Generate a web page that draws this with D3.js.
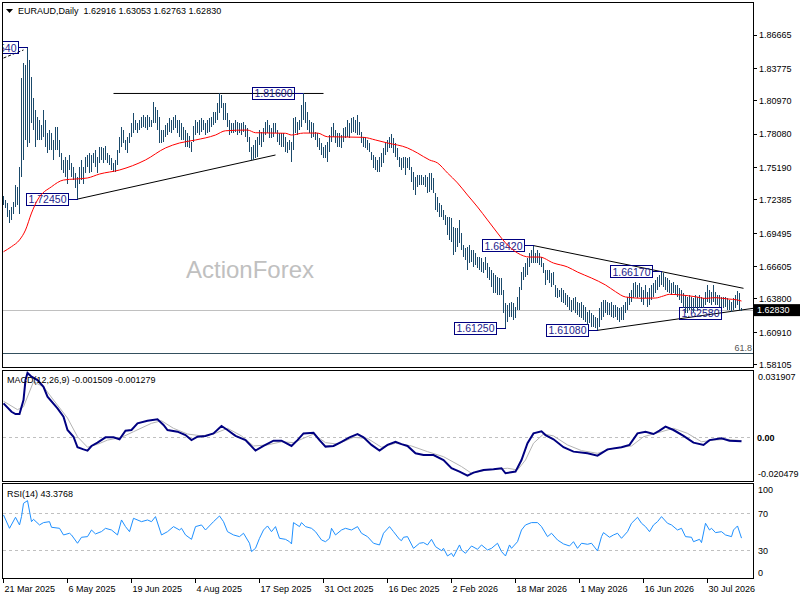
<!DOCTYPE html>
<html>
<head>
<meta charset="utf-8">
<script src="https://cdn.jsdelivr.net/npm/d3@7.9.0/dist/d3.min.js"></script>
<style>
  body { margin: 0; background: #fff; }
  svg { display: block; font-family: "Liberation Sans", Arial, sans-serif; }
</style>
</head>
<body>
<svg id="chart" width="800" height="600"></svg>
<script>
// ---- data ----
const symbol = 'EURAUD,Daily';
const lastOhlc = [1.62916, 1.63053, 1.62763, 1.62830];

const highs = [
  1.7271,1.7236,1.7207,1.7149,1.7178,1.7221,1.7366,1.7351,1.7525,1.8291,
  1.8421,1.8406,1.8554,1.8450,1.8305,1.8117,1.8016,1.7958,1.7929,1.7886,
  1.8016,1.7929,1.7814,1.7843,1.7814,1.7756,1.7872,1.7872,1.7756,1.7640,
  1.7583,1.7611,1.7583,1.7626,1.7554,1.7525,1.7467,1.7438,1.7525,1.7583,
  1.7525,1.7611,1.7626,1.7640,1.7626,1.7640,1.7669,1.7611,1.7698,1.7698,
  1.7684,1.7704,1.7640,1.7626,1.7597,1.7554,1.7583,1.7669,1.7785,1.7872,
  1.7843,1.7756,1.7785,1.7814,1.7900,1.7987,1.7929,1.7900,1.7929,1.7958,
  1.7973,1.7958,1.7973,1.7958,1.7929,1.8088,1.8045,1.8016,1.7958,1.7843,
  1.7843,1.7886,1.7900,1.7944,1.7929,1.7958,1.7973,1.7929,1.7929,1.7900,
  1.7872,1.7843,1.7814,1.7790,1.7742,1.7880,1.7930,1.7916,1.7930,1.7945,
  1.7930,1.7901,1.7930,1.7945,1.7959,1.8002,1.8002,1.8075,1.8160,1.8150,
  1.8075,1.8075,1.7988,1.7930,1.7901,1.7901,1.7930,1.7916,1.7901,1.7901,
  1.7916,1.7887,1.7858,1.7786,1.7699,1.7713,1.7757,1.7786,1.7843,1.7829,
  1.7858,1.7916,1.7930,1.7887,1.7858,1.7901,1.7901,1.7843,1.7815,1.7815,
  1.7815,1.7786,1.7742,1.7757,1.7742,1.7945,1.7959,1.7916,1.7930,1.8060,
  1.8160,1.8089,1.8002,1.7930,1.7916,1.7901,1.7829,1.7815,1.7771,1.7728,
  1.7699,1.7713,1.7742,1.7800,1.7872,1.7901,1.7843,1.7815,1.7815,1.7800,
  1.7858,1.7872,1.7930,1.7901,1.7945,1.7959,1.7930,1.7974,1.7916,1.7829,
  1.7786,1.7786,1.7757,1.7728,1.7656,1.7627,1.7612,1.7584,1.7612,1.7641,
  1.7685,1.7728,1.7757,1.7786,1.7806,1.7771,1.7728,1.7685,1.7612,1.7598,
  1.7612,1.7612,1.7598,1.7612,1.7526,1.7482,1.7439,1.7453,1.7453,1.7453,
  1.7439,1.7453,1.7439,1.7468,1.7468,1.7425,1.7295,1.7266,1.7208,1.7193,
  1.7150,1.7107,1.7092,1.7092,1.7078,1.7006,1.6991,1.6991,1.7063,1.6948,
  1.6847,1.6818,1.6832,1.6847,1.6803,1.6803,1.6774,1.6745,1.6745,1.6731,
  1.6702,1.6745,1.6688,1.6659,1.6630,1.6601,1.6587,1.6572,1.6558,1.6558,
  1.6456,1.6341,1.6326,1.6341,1.6355,1.6341,1.6312,1.6399,1.6485,1.6615,
  1.6659,1.6688,1.6731,1.6774,1.6803,1.6842,1.6774,1.6803,1.6774,1.6745,
  1.6688,1.6630,1.6630,1.6630,1.6601,1.6615,1.6500,1.6471,1.6456,1.6471,
  1.6457,1.6428,1.6413,1.6399,1.6370,1.6385,1.6399,1.6356,1.6341,1.6356,
  1.6327,1.6312,1.6269,1.6283,1.6255,1.6240,1.6226,1.6211,1.6298,1.6356,
  1.6370,1.6370,1.6356,1.6341,1.6356,1.6327,1.6327,1.6312,1.6298,1.6312,
  1.6327,1.6356,1.6399,1.6428,1.6457,1.6515,1.6529,1.6500,1.6515,1.6486,
  1.6457,1.6500,1.6442,1.6471,1.6500,1.6515,1.6544,1.6573,1.6587,1.6617,
  1.6607,1.6573,1.6558,1.6544,1.6515,1.6529,1.6500,1.6500,1.6471,1.6457,
  1.6428,1.6413,1.6399,1.6413,1.6399,1.6385,1.6413,1.6399,1.6413,1.6399,
  1.6385,1.6442,1.6500,1.6457,1.6442,1.6500,1.6442,1.6413,1.6413,1.6399,
  1.6399,1.6399,1.6385,1.6370,1.6356,1.6385,1.6413,1.6448,1.6428,1.6305
];

const lows = [
  1.7192,1.7164,1.7091,1.7039,1.7062,1.7120,1.7178,1.7192,1.7120,1.7438,
  1.7583,1.7756,1.7698,1.7727,1.7900,1.7843,1.7698,1.7756,1.7756,1.7756,
  1.7785,1.7698,1.7640,1.7669,1.7669,1.7583,1.7669,1.7669,1.7612,1.7496,
  1.7467,1.7438,1.7380,1.7496,1.7438,1.7409,1.7337,1.7245,1.7380,1.7409,
  1.7380,1.7467,1.7525,1.7467,1.7481,1.7554,1.7525,1.7467,1.7554,1.7583,
  1.7554,1.7583,1.7554,1.7539,1.7496,1.7481,1.7481,1.7539,1.7640,1.7698,
  1.7727,1.7669,1.7640,1.7727,1.7785,1.7814,1.7843,1.7814,1.7843,1.7857,
  1.7872,1.7857,1.7843,1.7872,1.7872,1.7900,1.7900,1.7843,1.7727,1.7727,
  1.7742,1.7785,1.7799,1.7828,1.7814,1.7843,1.7857,1.7814,1.7785,1.7756,
  1.7756,1.7698,1.7698,1.7690,1.7656,1.7740,1.7800,1.7815,1.7800,1.7829,
  1.7843,1.7800,1.7815,1.7829,1.7872,1.7887,1.7901,1.7930,1.7988,1.8031,
  1.7930,1.7930,1.7872,1.7800,1.7815,1.7815,1.7829,1.7800,1.7815,1.7800,
  1.7829,1.7786,1.7742,1.7656,1.7583,1.7583,1.7598,1.7612,1.7713,1.7699,
  1.7742,1.7800,1.7815,1.7771,1.7771,1.7786,1.7815,1.7742,1.7713,1.7699,
  1.7699,1.7656,1.7641,1.7670,1.7569,1.7670,1.7815,1.7800,1.7843,1.7872,
  1.7930,1.7901,1.7843,1.7815,1.7771,1.7786,1.7757,1.7699,1.7670,1.7627,
  1.7598,1.7598,1.7569,1.7656,1.7742,1.7786,1.7728,1.7699,1.7699,1.7685,
  1.7742,1.7771,1.7786,1.7771,1.7815,1.7829,1.7815,1.7800,1.7800,1.7728,
  1.7699,1.7685,1.7670,1.7656,1.7583,1.7511,1.7497,1.7482,1.7482,1.7526,
  1.7555,1.7627,1.7656,1.7685,1.7685,1.7641,1.7612,1.7584,1.7526,1.7497,
  1.7511,1.7453,1.7511,1.7497,1.7396,1.7323,1.7280,1.7352,1.7367,1.7367,
  1.7367,1.7352,1.7295,1.7309,1.7323,1.7295,1.7150,1.7136,1.7092,1.7092,
  1.7063,1.7020,1.6933,1.6890,1.6875,1.6760,1.6789,1.6832,1.6861,1.6803,
  1.6745,1.6717,1.6630,1.6688,1.6702,1.6659,1.6673,1.6644,1.6630,1.6615,
  1.6601,1.6630,1.6558,1.6543,1.6485,1.6428,1.6428,1.6413,1.6413,1.6413,
  1.6254,1.6125,1.6182,1.6225,1.6225,1.6196,1.6211,1.6283,1.6283,1.6456,
  1.6543,1.6572,1.6587,1.6659,1.6688,1.6688,1.6688,1.6688,1.6673,1.6659,
  1.6601,1.6500,1.6543,1.6514,1.6485,1.6500,1.6399,1.6384,1.6399,1.6356,
  1.6341,1.6327,1.6312,1.6283,1.6269,1.6283,1.6255,1.6240,1.6226,1.6211,
  1.6197,1.6182,1.6153,1.6168,1.6139,1.6139,1.6124,1.6108,1.6139,1.6197,
  1.6226,1.6255,1.6240,1.6240,1.6226,1.6211,1.6226,1.6197,1.6182,1.6197,
  1.6197,1.6255,1.6283,1.6327,1.6356,1.6385,1.6399,1.6385,1.6399,1.6356,
  1.6327,1.6385,1.6312,1.6327,1.6370,1.6399,1.6428,1.6457,1.6486,1.6500,
  1.6486,1.6457,1.6442,1.6428,1.6413,1.6428,1.6413,1.6399,1.6370,1.6341,
  1.6298,1.6262,1.6258,1.6283,1.6283,1.6269,1.6298,1.6283,1.6298,1.6312,
  1.6298,1.6327,1.6356,1.6341,1.6327,1.6356,1.6327,1.6327,1.6312,1.6312,
  1.6298,1.6312,1.6283,1.6283,1.6269,1.6283,1.6298,1.6327,1.6283,1.6276
];

// moving average, [bar, value]
const maPoints = [
  [0,1.6789],[4,1.6833],[8,1.6891],[11,1.6977],[14,1.7124],[17,1.7237],[24,1.7352],[30,1.7410],
  [42,1.7428],[48,1.7462],[58,1.7497],[71,1.7584],[81,1.7688],[88,1.7731],[96,1.7757],
  [106,1.7800],[111,1.7837],[122,1.7843],[126,1.7820],[141,1.7815],[144,1.7800],[150,1.7817],[157,1.7817],
  [162,1.7785],[171,1.7783],[180,1.7780],[186,1.7757],[192,1.7731],[202,1.7688],[207,1.7644],[213,1.7584],
  [217,1.7558],[222,1.7471],[227,1.7385],[232,1.7280],[237,1.7177],[242,1.7064],[247,1.6951],[251,1.6865],
  [257,1.6778],[263,1.6743],[268,1.6743],[275,1.6691],[282,1.6657],[287,1.6613],[294,1.6561],[301,1.6501],
  [306,1.6443],[311,1.6397],[319,1.6386],[326,1.6388],[330,1.6406],[333,1.6420],[339,1.6414],[346,1.6399],
  [351,1.6385],[356,1.6391],[362,1.6380],[367,1.6371],[369,1.6362]
];

const macdPoints = [
  [0,0.0165],[4,0.0125],[6,0.0114],[8,0.0114],[10,0.0181],[11,0.0276],[12,0.0310],[14,0.0292],[17,0.0276],[20,0.0244],
  [22,0.0197],[27,0.0141],[30,0.0101],[32,0.0038],[35,0.0006],[37,-0.0044],[40,-0.0054],[42,-0.0060],[44,-0.0038],[47,-0.0022],
  [51,0.0003],[55,0.0003],[58,-0.0006],[61,0.0035],[64,0.0038],[67,0.0070],[72,0.0082],[77,0.0089],[80,0.0062],[82,0.0038],
  [87,0.0030],[91,0.0014],[94,-0.0010],[97,0.0006],[101,0.0010],[105,0.0022],[109,0.0057],[112,0.0038],[116,0.0010],[121,-0.0010],
  [126,-0.0060],[130,-0.0038],[135,-0.0013],[139,-0.0013],[144,-0.0038],[147,-0.0010],[150,0.0022],[155,0.0025],[158,-0.0010],[161,-0.0041],
  [165,-0.0038],[169,-0.0018],[173,0.0003],[177,0.0019],[180,0.0003],[184,-0.0033],[188,-0.0060],[192,-0.0033],[196,-0.0018],[199,-0.0029],
  [202,-0.0038],[206,-0.0073],[210,-0.0081],[215,-0.0081],[220,-0.0105],[224,-0.0144],[228,-0.0160],[232,-0.0179],[235,-0.0165],[240,-0.0152],
  [245,-0.0149],[249,-0.0144],[251,-0.0168],[256,-0.0160],[259,-0.0105],[262,-0.0025],[265,0.0022],[269,0.0032],[271,0.0014],[275,-0.0006],
  [280,-0.0044],[285,-0.0065],[292,-0.0073],[297,-0.0084],[302,-0.0054],[309,-0.0044],[313,-0.0033],[317,0.0022],[321,0.0030],[325,0.0019],
  [328,0.0035],[331,0.0054],[335,0.0038],[340,0.0010],[345,-0.0022],[350,-0.0033],[353,-0.0010],[359,-0.0001],[363,-0.0013],[369,-0.0015]
];

const signalPoints = [
  [0,0.0175],[7,0.0135],[10,0.0149],[15,0.0268],[20,0.0244],[25,0.0181],[32,0.0095],[37,0.0006],[42,-0.0044],[47,-0.0030],
  [52,-0.0010],[59,0.0003],[65,0.0030],[74,0.0070],[79,0.0082],[85,0.0046],[92,0.0019],[99,0.0010],[105,0.0019],[112,0.0046],
  [119,0.0010],[125,-0.0038],[132,-0.0033],[139,-0.0018],[145,-0.0022],[155,0.0019],[161,-0.0022],[167,-0.0029],[175,0.0003],[182,-0.0002],
  [189,-0.0044],[196,-0.0025],[204,-0.0038],[212,-0.0065],[220,-0.0089],[229,-0.0136],[234,-0.0168],[242,-0.0152],[252,-0.0144],[257,-0.0152],
  [261,-0.0105],[265,-0.0025],[270,0.0019],[275,0.0010],[282,-0.0033],[289,-0.0060],[297,-0.0073],[305,-0.0049],[314,-0.0038],[320,0.0006],
  [329,0.0030],[335,0.0046],[342,0.0022],[349,-0.0018],[355,-0.0010],[362,-0.0006],[369,-0.0013]
];
const macdReadout = [-0.001509, -0.001279];

const rsiPoints = [
  [0,68.2],[3,53.9],[6,65.7],[8,57.5],[9,66.4],[10,80.6],[12,83.5],[14,61.0],[15,63.5],[18,57.5],
  [20,60.0],[23,61.0],[24,55.0],[28,53.9],[30,46.8],[33,48.6],[34,46.8],[37,37.9],[39,44.3],[42,45.0],
  [44,52.1],[46,47.9],[49,50.4],[51,53.9],[54,52.1],[57,46.8],[59,62.8],[61,55.7],[63,50.3],[65,64.6],
  [69,61.0],[72,62.8],[74,61.0],[76,66.4],[79,46.8],[82,50.3],[85,55.7],[88,52.1],[89,53.9],[91,46.8],
  [94,42.1],[96,55.7],[99,57.5],[101,52.1],[105,61.0],[108,67.1],[110,61.0],[112,50.3],[115,46.8],[118,45.0],
  [120,48.6],[123,37.9],[124,29.0],[126,32.5],[128,43.2],[130,52.1],[132,56.4],[134,50.3],[136,55.7],[138,43.2],
  [141,42.1],[143,39.6],[144,37.2],[145,60.0],[148,55.7],[149,60.0],[151,55.7],[154,53.9],[156,50.3],[159,41.4],
  [161,39.6],[163,43.2],[164,53.9],[166,46.8],[169,52.1],[171,53.9],[174,52.1],[177,55.7],[179,48.6],[182,45.0],
  [185,37.9],[188,36.1],[190,48.6],[193,55.7],[195,50.3],[198,42.1],[199,40.7],[200,44.3],[202,45.0],[205,32.5],
  [208,37.9],[210,38.6],[212,36.1],[214,42.1],[216,34.3],[219,30.0],[220,32.5],[222,24.3],[224,27.2],[225,23.6],
  [228,36.1],[229,30.7],[231,27.2],[234,35.0],[237,31.4],[239,36.1],[242,30.7],[244,32.5],[247,37.9],[249,29.0],
  [251,24.3],[253,36.1],[254,32.5],[257,39.6],[259,52.1],[261,57.5],[264,60.0],[267,60.0],[269,55.7],[272,45.0],
  [274,48.6],[277,41.4],[280,37.2],[283,35.0],[285,39.6],[287,32.5],[289,37.9],[292,36.8],[294,37.9],[297,29.7],
  [299,45.0],[300,49.3],[303,44.3],[305,46.8],[307,48.6],[309,43.2],[312,50.3],[314,59.3],[317,65.7],[319,59.3],
  [321,55.7],[323,50.3],[325,57.5],[327,61.0],[329,66.4],[332,59.3],[334,57.5],[337,52.1],[339,53.9],[341,45.0],
  [344,44.3],[345,39.6],[348,42.1],[349,38.6],[351,59.3],[353,52.1],[354,53.9],[356,49.3],[359,50.3],[361,46.8],
  [364,45.0],[365,52.1],[367,56.4],[369,43.4]
];
const rsiReadout = 43.3768;
const rsiLevels = [70, 30];
const rsiTicks = [100, 70, 30, 0];

const priceTicks = [1.86665, 1.83775, 1.80970, 1.78080, 1.75190, 1.72385, 1.69495, 1.66605, 1.63800, 1.60910, 1.58105];
const macdTicks = [0.031907, 0.00, -0.020479];

const dateIdx = [0, 32, 64, 96, 128, 160, 192, 224, 256, 288, 320, 352];
const dateLabels = ['21 Mar 2025', '6 May 2025', '19 Jun 2025', '4 Aug 2025', '17 Sep 2025', '31 Oct 2025',
  '16 Dec 2025', '2 Feb 2026', '18 Mar 2026', '1 May 2026', '16 Jun 2026', '30 Jul 2026'];

// swing labels: bar, price, box side
const swingIdx = [12, 150, 37, 265, 329, 251, 297, 342];
const swingPrice = [1.85540, 1.81600, 1.72450, 1.68420, 1.66170, 1.61250, 1.61080, 1.62580];
const swingSide = ['L', 'L', 'L', 'L', 'L', 'L', 'L', 'R'];

// trend lines: [bar0, price0, bar1, price1]
const trendLines = [
  [55, 1.8160, 160, 1.8160],
  [37, 1.7245, 136, 1.7627],
  [265, 1.6842, 370, 1.6472],
  [297, 1.6108, 375, 1.6299]
];
const dashedLine = [0, 1.8467, 10, 1.8537];
const fibLevel = 1.5911;

// ---- drawing ----
const svg = d3.select('#chart');
const crisp = v => Math.round(v - 0.5) + 0.5;
const barColor = '#1b4a6b';

const x = d3.scaleLinear().domain([0, 369]).range([3.5, 741.5]);
const y = d3.scaleLinear().domain([1.60910, 1.86665]).range([332.3, 35]);
const yMacd = d3.scaleLinear().domain([-0.020479, 0.031907]).range([481, 371]);
const yRsi = d3.scaleLinear().domain([0, 100]).range([578.7, 485.2]);

const defs = svg.append('defs');
function addClip(id, x0, y0, x1, y1) {
  defs.append('clipPath').attr('id', id).append('rect')
    .attr('x', x0).attr('y', y0).attr('width', x1 - x0).attr('height', y1 - y0);
}
addClip('cMain', 3, 3, 753, 367);
addClip('cMacd', 3, 371, 753, 481);
addClip('cRsi', 3, 484, 753, 578);

// frames
[[2.5, 2.5, 753.5, 367.5], [2.5, 370.5, 753.5, 481.5], [2.5, 483.5, 753.5, 578.5]].forEach(f => {
  svg.append('rect').attr('x', f[0]).attr('y', f[1]).attr('width', f[2] - f[0]).attr('height', f[3] - f[1])
    .attr('fill', 'none').attr('stroke', '#000').attr('shape-rendering', 'crispEdges');
});

// main panel
const main = svg.append('g').attr('clip-path', 'url(#cMain)');

main.append('text').attr('x', 250).attr('y', 277.5).attr('text-anchor', 'middle')
  .attr('font-size', 24).attr('fill', '#c0c0c0').text('ActionForex');

const close = lastOhlc[3];
main.append('line').attr('x1', 3).attr('x2', 753)
  .attr('y1', crisp(y(close))).attr('y2', crisp(y(close)))
  .attr('stroke', '#c0c0c0').attr('shape-rendering', 'crispEdges');

main.append('line').attr('x1', 3).attr('x2', 753)
  .attr('y1', crisp(y(fibLevel))).attr('y2', crisp(y(fibLevel)))
  .attr('stroke', '#34505e').attr('shape-rendering', 'crispEdges');

trendLines.forEach(t => {
  main.append('line')
    .attr('x1', x(t[0])).attr('y1', y(t[1])).attr('x2', x(t[2])).attr('y2', y(t[3]))
    .attr('stroke', '#000').attr('stroke-width', 1);
});
main.append('line')
  .attr('x1', x(dashedLine[0])).attr('y1', y(dashedLine[1])).attr('x2', x(dashedLine[2])).attr('y2', y(dashedLine[3]))
  .attr('stroke', '#000').attr('stroke-dasharray', '3,2');

swingIdx.forEach((idx, k) => {
  const px = x(idx), py = y(swingPrice[k]);
  const w = 42, h = 12;
  let bx;
  if (swingSide[k] === 'L') {
    bx = px - 9 - w;
    main.append('line').attr('x1', px - 9).attr('x2', px).attr('y1', crisp(py)).attr('y2', crisp(py))
      .attr('stroke', '#000080').attr('shape-rendering', 'crispEdges');
  } else {
    bx = px - 8;
  }
  main.append('rect').attr('x', crisp(bx)).attr('y', crisp(py - h / 2)).attr('width', w).attr('height', h)
    .attr('fill', 'none').attr('stroke', '#000080').attr('shape-rendering', 'crispEdges');
  main.append('text').attr('x', bx + w / 2).attr('y', py + 4).attr('text-anchor', 'middle')
    .attr('font-size', 10.5).attr('fill', '#1c1c8c').text(swingPrice[k].toFixed(5));
});

// price bars
main.append('path')
  .attr('d', highs.map((h, i) => `M${x(i)},${y(h)}V${y(lows[i])}`).join(''))
  .attr('stroke', barColor).attr('stroke-width', 1).attr('fill', 'none')
  .attr('shape-rendering', 'crispEdges');

// moving average
main.append('path')
  .datum(maPoints)
  .attr('d', d3.line().x(d => x(d[0])).y(d => y(d[1])).curve(d3.curveMonotoneX))
  .attr('fill', 'none').attr('stroke', '#ff0000').attr('stroke-width', 1);

svg.append('text').attr('x', 752).attr('y', 351).attr('text-anchor', 'end')
  .attr('font-size', 9).attr('fill', '#555').text('61.8');

// title
svg.append('path').attr('d', 'M6,9L13,9L9.5,13Z').attr('fill', '#000');
svg.append('text').attr('x', 18).attr('y', 14).attr('font-size', 9).attr('fill', '#000')
  .style('white-space', 'pre')
  .text(symbol + '  ' + lastOhlc.map(v => v.toFixed(5)).join(' '));

// price axis
priceTicks.forEach(t => {
  const ty = y(t);
  svg.append('line').attr('x1', 754).attr('x2', 757).attr('y1', crisp(ty)).attr('y2', crisp(ty))
    .attr('stroke', '#000').attr('shape-rendering', 'crispEdges');
  svg.append('text').attr('x', 759).attr('y', ty + 3.3).attr('font-size', 9).attr('fill', '#000')
    .text(t.toFixed(5));
});
svg.append('rect').attr('x', 754).attr('y', y(close) - 6).attr('width', 46).attr('height', 12).attr('fill', '#000');
svg.append('text').attr('x', 757).attr('y', y(close) + 3.3).attr('font-size', 9).attr('fill', '#fff')
  .text(close.toFixed(5));

// MACD panel
const macdG = svg.append('g').attr('clip-path', 'url(#cMacd)');
macdG.append('line').attr('x1', 3).attr('x2', 753).attr('y1', crisp(yMacd(0))).attr('y2', crisp(yMacd(0)))
  .attr('stroke', '#c0c0c0').attr('stroke-dasharray', '3,3');
macdG.append('path').datum(signalPoints)
  .attr('d', d3.line().x(d => x(d[0])).y(d => yMacd(d[1])))
  .attr('fill', 'none').attr('stroke', '#b4b4b4').attr('stroke-width', 1);
macdG.append('path').datum(macdPoints)
  .attr('d', d3.line().x(d => x(d[0])).y(d => yMacd(d[1])))
  .attr('fill', 'none').attr('stroke', '#000080').attr('stroke-width', 2);
svg.append('text').attr('x', 7).attr('y', 383).attr('font-size', 9).attr('fill', '#000')
  .text('MACD(12,26,9) ' + macdReadout[0].toFixed(6) + ' ' + macdReadout[1].toFixed(6));
macdTicks.forEach((t, k) => {
  let ty = yMacd(t) + 3.3;
  if (k === 0) ty = yMacd(t) + 9;
  if (k === macdTicks.length - 1) ty = yMacd(t) - 4;
  svg.append('text').attr('x', t === 0 ? 757 : 758).attr('y', ty).attr('font-size', 9).attr('fill', '#000')
    .attr('font-weight', t === 0 ? 'bold' : null)
    .text(t === 0 ? '0.00' : t.toFixed(6));
});

// RSI panel
const rsiG = svg.append('g').attr('clip-path', 'url(#cRsi)');
rsiLevels.forEach(l => {
  rsiG.append('line').attr('x1', 3).attr('x2', 753).attr('y1', crisp(yRsi(l))).attr('y2', crisp(yRsi(l)))
    .attr('stroke', '#c0c0c0').attr('stroke-dasharray', '3,3');
});
rsiG.append('path').datum(rsiPoints)
  .attr('d', d3.line().x(d => x(d[0])).y(d => yRsi(d[1])))
  .attr('fill', 'none').attr('stroke', '#1e90ff').attr('stroke-width', 1);
svg.append('text').attr('x', 7).attr('y', 497).attr('font-size', 9).attr('fill', '#000')
  .text('RSI(14) ' + rsiReadout.toFixed(4));
rsiTicks.forEach(t => {
  let ty = yRsi(t) + 3.3;
  if (t === 100) ty = yRsi(t) + 8;
  if (t === 0) ty = yRsi(t) - 3;
  svg.append('text').attr('x', 758).attr('y', ty).attr('font-size', 9).attr('fill', '#000').text(t);
});

// date axis
dateIdx.forEach((idx, k) => {
  const tx = crisp(x(idx));
  svg.append('line').attr('x1', tx).attr('x2', tx).attr('y1', 579).attr('y2', 583)
    .attr('stroke', '#000').attr('shape-rendering', 'crispEdges');
  svg.append('text').attr('x', tx + 1).attr('y', 592).attr('font-size', 9).attr('fill', '#000')
    .text(dateLabels[k]);
});
</script>
</body>
</html>
